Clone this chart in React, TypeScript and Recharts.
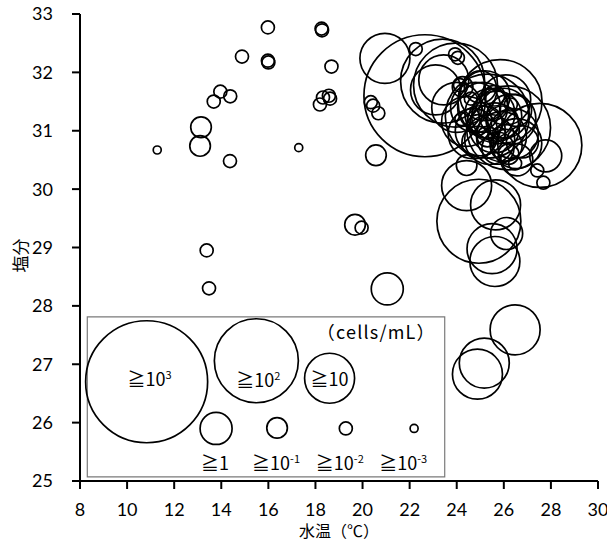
import { ScatterChart, Scatter, XAxis, YAxis, ReferenceArea, Label } from "recharts";

// 水温 (°C), 塩分, and abundance class (log10 of cells/mL lower bound)
const waterTemp = [
  11.28, 13.1, 13.14, 13.38, 13.48, 14.37, 13.68, 13.96, 14.38, 14.88, 15.98, 15.98, 16.0, 17.29,
  18.26, 18.28, 18.68, 18.19, 18.32, 18.57, 18.62, 20.57, 19.68, 19.96, 21.05, 20.35, 20.45, 20.67,
  20.95, 22.26, 23.93, 24.05, 22.65, 23.4, 23.95, 23.45, 23.1, 24.0, 24.25, 24.14,
  24.42, 25.41, 26.08, 26.55, 25.0, 25.6, 25.9, 26.3, 25.2, 24.8, 25.7, 26.0, 25.4, 26.4, 24.7, 25.1,
  25.84, 25.3, 26.2, 26.79, 26.55, 25.5, 25.75, 26.1, 24.9, 25.25, 26.5, 25.0, 25.95,
  24.42, 24.9, 25.3, 26.2, 25.6, 26.48, 24.2, 25.8, 24.6, 26.3,
  24.42, 25.65, 24.94, 26.12, 25.5, 25.62, 26.48, 25.17, 24.88,
  27.42, 27.68, 27.53, 27.78,
];
const salinity = [
  30.67, 30.74, 31.06, 28.95, 28.3, 30.48, 31.5, 31.67, 31.59, 32.27, 32.77, 32.2, 32.17, 30.71,
  32.75, 32.72, 32.1, 31.45, 31.57, 31.6, 31.55, 30.58, 29.39, 29.34, 28.29, 31.49, 31.43, 31.3,
  32.24, 32.4, 32.31, 32.25, 31.6, 31.85, 31.78, 31.87, 31.7, 31.4, 31.75, 31.78,
  31.16, 31.29, 31.53, 30.78, 31.0, 31.05, 30.9, 31.2, 31.6, 31.4, 31.25, 31.3, 30.85, 30.95, 30.95, 31.4,
  31.5, 31.25, 31.05, 30.81, 30.5, 31.45, 30.7, 30.75, 30.8, 31.15, 31.35, 31.75, 31.15,
  30.41, 31.1, 30.9, 30.6, 31.6, 30.44, 31.2, 30.95, 31.55, 31.45,
  30.06, 29.73, 29.45, 29.24, 28.98, 28.76, 27.59, 27.02, 26.83,
  30.32, 30.11, 30.75, 30.57,
];
const level = [
  -3, -1, -1, -2, -2, -2, -2, -2, -2, -2, -2, -2, -2, -3,
  -2, -2, -2, -2, -2, -2, -2, -1, -1, -2, 0, -2, -2, -2,
  1, -2, -2, -2, 3, 2, 2, 1, 1, 1, -1, -2,
  1, 1, 1, 1, 1, 1, 1, 1, 1, 1, 1, 1, 1, 1, 1, 1,
  2, 2, 2, 0, 0, 0, 0, 0, 0, 0, 0, 0, 0,
  -1, -1, -1, -1, -1, -2, -2, -2, -2, -2,
  1, 1, 2, 0, 1, 1, 1, 1, 1,
  -2, -2, 2, 0,
];

// legend samples drawn inside the box
const legendTemp = [10.83, 15.49, 18.6, 13.78, 16.37, 19.29, 22.19];
const legendSal = [26.7, 27.06, 26.76, 25.9, 25.91, 25.9, 25.9];
const legendLevel = [3, 2, 1, 0, -1, -2, -3];
const legendExp = ["3", "2", "", "", "-1", "-2", "-3"];

const xTicks = [8, 10, 12, 14, 16, 18, 20, 22, 24, 26, 28, 30];
const yTicks = [25, 26, 27, 28, 29, 30, 31, 32, 33];

const points = waterTemp.map((t, i) => ({ t, s: salinity[i], lv: level[i] }));
const legendPoints = legendTemp.map((t, i) => ({ t, s: legendSal[i], lv: legendLevel[i], exp: legendExp[i] }));

const RADIUS: Record<number, number> = { 3: 61, 2: 42, 1: 25, 0: 16, [-1]: 10.3, [-2]: 6.5, [-3]: 4 };
// label placement relative to the sample circle
const LABEL_OFFSET = [
  { dx: 3, dy: 4 },
  { dx: 2, dy: 26 },
  { dx: 0, dy: 8 },
  { dx: -1, dy: 42 },
  { dx: -1, dy: 42 },
  { dx: -6, dy: 42 },
  { dx: -11, dy: 42 },
];

const TICK = { fill: "#000", fontSize: 18, fontFamily: "Lato, 'Noto Sans CJK JP', sans-serif" };
const JP = "'Noto Sans CJK JP', sans-serif";

function Bubble(p: any) {
  return <circle cx={p.cx} cy={p.cy} r={RADIUS[p.payload.lv]} fill="none" stroke="#000" strokeWidth={1.7} />;
}

function LegendBubble(p: any) {
  const o = LABEL_OFFSET[p.index] ?? { dx: 0, dy: 0 };
  const d = p.payload;
  return (
    <g>
      <circle cx={p.cx} cy={p.cy} r={RADIUS[d.lv]} fill="none" stroke="#000" strokeWidth={1.7} />
      <text x={p.cx + o.dx} y={p.cy + o.dy} textAnchor="middle" fontSize={18} fontFamily={JP} fill="#000">
        <tspan>≧{d.lv === 0 ? "1" : "10"}</tspan>
        {d.exp && (
          <tspan fontSize={11} dy={-7}>
            {d.exp}
          </tspan>
        )}
      </text>
    </g>
  );
}

export default function App() {
  return (
    <div style={{ position: "absolute", left: 0, top: 0, background: "#fff" }}>
      <ScatterChart width={607} height={544} margin={{ top: 14, right: 9, bottom: 28, left: 20 }}>
        <XAxis
          type="number"
          dataKey="t"
          domain={[8, 30]}
          ticks={xTicks}
          interval={0}
          allowDataOverflow
          height={35}
          tickSize={8}
          tickMargin={14}
          tick={TICK}
          axisLine={{ stroke: "#000", strokeWidth: 2 }}
          tickLine={{ stroke: "#000", strokeWidth: 2 }}
        >
          <Label
            content={({ viewBox }: any) => (
              <text x={viewBox.x + viewBox.width / 2} y={viewBox.y + 56} textAnchor="middle" fontSize={16} fontFamily={JP} fill="#000">
                水温（℃）
              </text>
            )}
          />
        </XAxis>
        <YAxis
          type="number"
          dataKey="s"
          domain={[25, 33]}
          ticks={yTicks}
          interval={0}
          allowDataOverflow
          width={60}
          tickSize={8}
          tickMargin={19}
          tick={TICK}
          axisLine={{ stroke: "#000", strokeWidth: 2 }}
          tickLine={{ stroke: "#000", strokeWidth: 2 }}
        >
          <Label
            content={({ viewBox }: any) => {
              const x = viewBox.x - 1;
              const y = viewBox.y + viewBox.height / 2 + 8;
              return (
                <text x={x} y={y} transform={`rotate(-90 ${x} ${y})`} textAnchor="middle" dominantBaseline="central" fontSize={17} fontFamily={JP} fill="#000">
                  塩分
                </text>
              );
            }}
          />
        </YAxis>
        <ReferenceArea x1={8.31} x2={23.49} y1={25.07} y2={27.81} fill="none" stroke="#7a7a7a" strokeWidth={1.2} fillOpacity={0}>
          <Label value="（cells/mL）" position="insideTopRight" offset={9} style={{ fontSize: 18, letterSpacing: 1.2, fontFamily: JP, fill: "#000" }} />
        </ReferenceArea>
        <Scatter data={points} shape={Bubble} isAnimationActive={false} />
        <Scatter data={legendPoints} shape={LegendBubble} isAnimationActive={false} />
      </ScatterChart>
    </div>
  );
}
